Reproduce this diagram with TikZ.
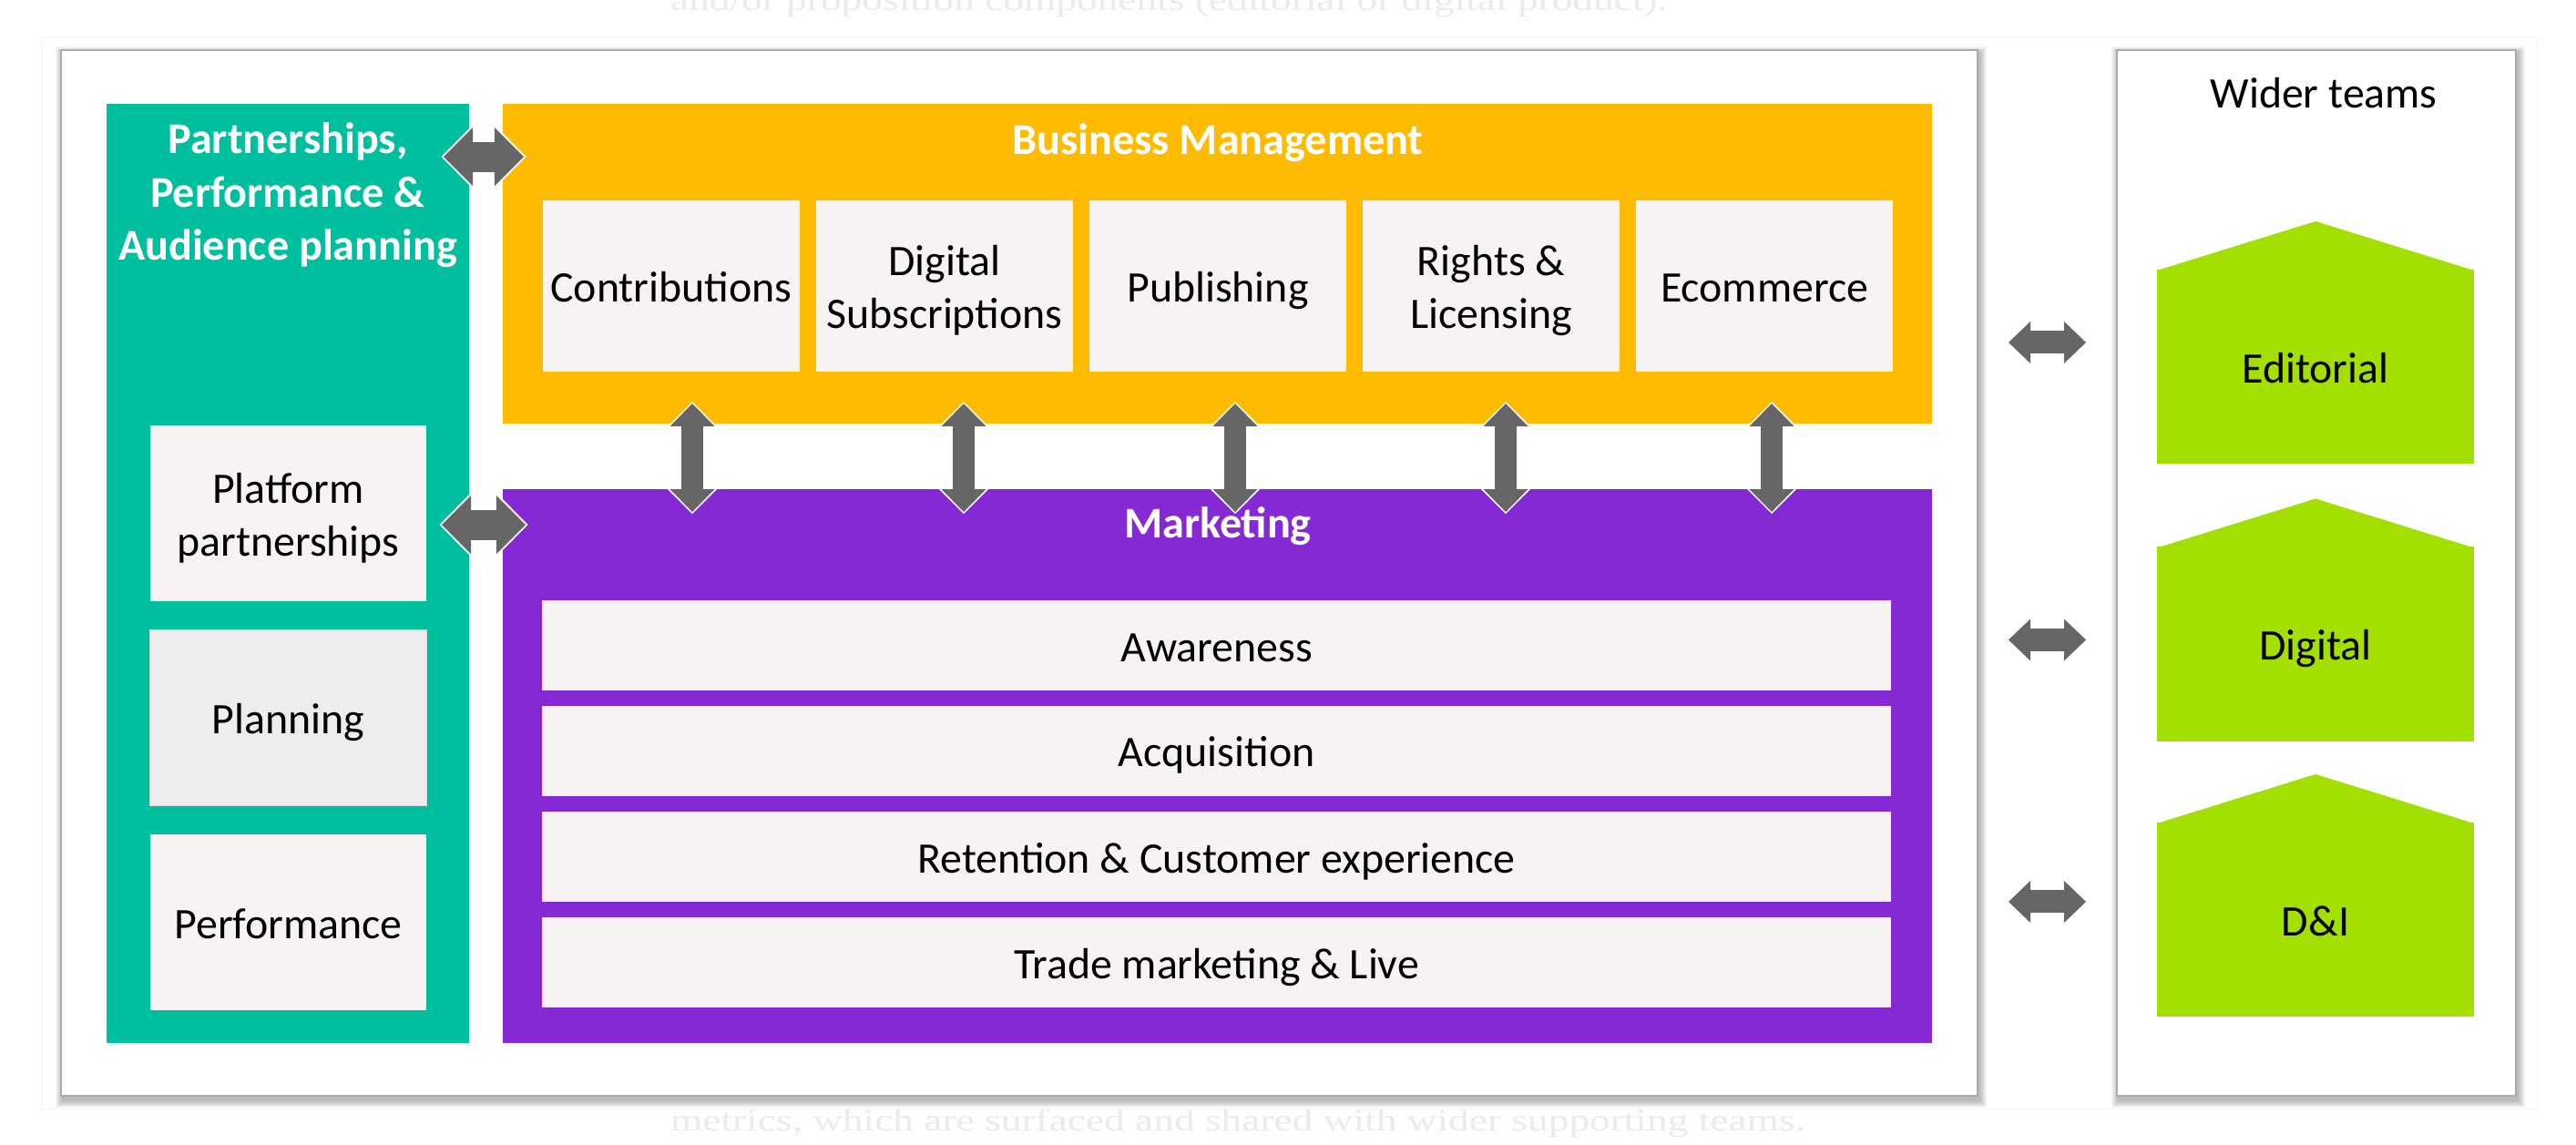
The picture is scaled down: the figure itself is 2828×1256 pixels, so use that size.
\documentclass[tikz,border=0pt]{standalone}
\usepackage{fontspec}
\setmainfont{Carlito}
\newfontfamily\faintserif[FakeStretch=1.33]{Liberation Serif}
\usetikzlibrary{arrows.meta,calc,fit}
\definecolor{tealc}{HTML}{00BF9F}
\definecolor{orangec}{HTML}{FFBB00}
\definecolor{purplec}{HTML}{8529D5}
\definecolor{greenc}{HTML}{A3DF00}
\definecolor{boxc}{HTML}{F7F3F3}
\definecolor{planc}{HTML}{EDEDED}
\definecolor{arrowc}{HTML}{666666}
\definecolor{framec}{HTML}{ABABAB}
\definecolor{faintc}{HTML}{EBEBEB}
\newcommand\bodyfont{\fontsize{13.6pt}{16.5pt}\selectfont}
\newcommand\titlefont{\fontsize{13.7pt}{16.6pt}\selectfont\bfseries}
\begin{document}
\begin{tikzpicture}[x=0.01cm, y=-0.01cm,
  every node/.style={inner sep=0pt, outer sep=0pt},
  frame/.style={draw=framec, line width=0.02cm, fill=white},
  onebox/.style={fill=boxc, font=\bodyfont, text height=10.2pt, text depth=0pt},
  twobox/.style={fill=boxc, font=\bodyfont, align=center, text height=26.7pt, text depth=0pt},
  subbox/.style={minimum width=2.82cm, minimum height=1.88cm},
  rowbox/.style={minimum width=14.81cm, minimum height=0.99cm},
  leftbox/.style={minimum width=3.03cm, minimum height=1.93cm},
  housebody/.style={fill=greenc, minimum width=3.48cm, minimum height=2.13cm},
  title/.style={font=\titlefont, text=white, text height=10.3pt, text depth=0pt},
  hArrowL/.style={draw=arrowc, line width=0.33cm,
    {Triangle[length=0.32cm,width=0.64cm,line width=0pt]}-{Triangle[length=0.32cm,width=0.64cm,line width=0pt]},
    preaction={draw=white, line width=0.37cm,
      {Triangle[length=0.345cm,width=0.70cm,line width=0pt]}-{Triangle[length=0.345cm,width=0.70cm,line width=0pt]},
      shorten <=-0.025cm, shorten >=-0.025cm}},
  vArrow/.style={draw=arrowc, line width=0.24cm,
    {Triangle[length=0.25cm,width=0.49cm,line width=0pt]}-{Triangle[length=0.25cm,width=0.49cm,line width=0pt]},
    preaction={draw=white, line width=0.28cm,
      {Triangle[length=0.275cm,width=0.55cm,line width=0pt]}-{Triangle[length=0.275cm,width=0.55cm,line width=0pt]},
      shorten <=-0.02cm, shorten >=-0.02cm}},
  hArrowS/.style={draw=arrowc, line width=0.25cm,
    {Triangle[length=0.24cm,width=0.46cm,line width=0pt]}-{Triangle[length=0.24cm,width=0.46cm,line width=0pt]}}
]
\useasboundingbox (0,0) rectangle (2828,1256);
\fill[white] (0,0) rectangle (2828,1256);

% faint surrounding text and frame
\node[anchor=base west, font=\fontsize{9.7pt}{11pt}\faintserif, text=faintc] (ttop) at (736,11) {and/or proposition components (editorial or digital product).};
\node[anchor=base west, font=\fontsize{9.7pt}{11pt}\faintserif, text=faintc] (tbot) at (736,1241) {metrics, which are surfaced and shared with wider supporting teams.};
\node[draw=faintc!60, line width=0.01cm, fit={(45,40)(2785,1217)}] (pageframe) {};

% soft shadows
\foreach \k in {1,...,8} {
  \fill[black, opacity=0.035] (69-\k, 59-\k) rectangle (2173+\k, 1208+\k);
  \fill[black, opacity=0.035] (2326-\k, 59-\k) rectangle (2764+\k, 1208+\k);
}

% containers
\node[frame, fit={(67,55)(2171,1203)}] (main) {};
\node[frame, fit={(2324,55)(2762,1203)}] (wider) {};

% coloured panels
\node[fill=tealc, fit={(117,114)(515,1145)}] (tl) {};
\node[fill=orangec, fit={(552,114)(2121,465)}] (bm) {};
\node[fill=purplec, fit={(552,537)(2121,1145)}] (mk) {};

% titles
\node[title, align=center, text height=43.5pt] (tlt) at (316,209) {Partnerships,\\Performance \&\\Audience planning};
\node[title] (bmt) at (1337,151) {Business Management};
\node[title] (mkt) at (1337,572) {Marketing};
\node[font=\bodyfont, text height=10.2pt, text depth=0pt] (wt) at (2551,101) {Wider teams};

% business management boxes
\node[onebox, subbox] (c1) at (737,314) {Contributions};
\node[twobox, subbox] (c2) at (1037,314) {Digital\\Subscriptions};
\node[onebox, subbox] (c3) at (1337,314) {Publishing};
\node[twobox, subbox] (c4) at (1637,314) {Rights \&\\Licensing};
\node[onebox, subbox] (c5) at (1937,314) {Ecommerce};

% marketing rows
\node[onebox, rowbox] (r1) at (1335.5,708.5) {Awareness};
\node[onebox, rowbox] (r2) at (1335.5,824) {Acquisition};
\node[onebox, rowbox] (r3) at (1335.5,940.5) {Retention \& Customer experience};
\node[onebox, rowbox] (r4) at (1335.5,1056.5) {Trade marketing \& Live};

% left boxes
\node[twobox, leftbox] (p1) at (316.5,563.5) {Platform\\partnerships};
\node[onebox, leftbox, fill=planc, draw=black!15, line width=0.01cm] (p2) at (316.5,788) {Planning};
\node[onebox, leftbox] (p3) at (316.5,1012.5) {Performance};

% wider team houses
\node[onebox, housebody] (ed) at (2542,402.5) {Editorial};
\node[onebox, housebody] (dg) at (2542,707) {Digital};
\node[onebox, housebody] (di) at (2542,1009.5) {D\&I};
\foreach \h in {ed,dg,di}
  \fill[greenc] ($(\h.north west)+(0,1)$) -- ($(\h.north)+(0,-53)$) -- ($(\h.north east)+(0,1)$) -- cycle;

% connectors
\draw[hArrowL] ($(tl.north east)+(-28,58)$) -- ($(bm.north west)+(23,58)$);
\draw[hArrowL] ($(tl.east |- mk.north)+(-30,39)$) -- ($(mk.north west)+(25,39)$);
\draw[vArrow] ($(c1.center |- bm.south)+(23,-22)$) -- ($(c1.center |- mk.north)+(23,25)$);
\draw[vArrow] ($(c2.center |- bm.south)+(21,-22)$) -- ($(c2.center |- mk.north)+(21,25)$);
\draw[vArrow] ($(c3.center |- bm.south)+(19,-22)$) -- ($(c3.center |- mk.north)+(19,25)$);
\draw[vArrow] ($(c4.center |- bm.south)+(16,-22)$) -- ($(c4.center |- mk.north)+(16,25)$);
\draw[vArrow] ($(c5.center |- bm.south)+(8,-22)$) -- ($(c5.center |- mk.north)+(8,25)$);
\draw[hArrowS] ($(main.east |- ed.north)+(34,80)$) -- ($(wider.west |- ed.north)+(-34,80)$);
\draw[hArrowS] ($(main.east |- dg.north)+(34,102)$) -- ($(wider.west |- dg.north)+(-34,102)$);
\draw[hArrowS] ($(main.east |- di.north)+(34,87)$) -- ($(wider.west |- di.north)+(-34,87)$);
\end{tikzpicture}
\end{document}
